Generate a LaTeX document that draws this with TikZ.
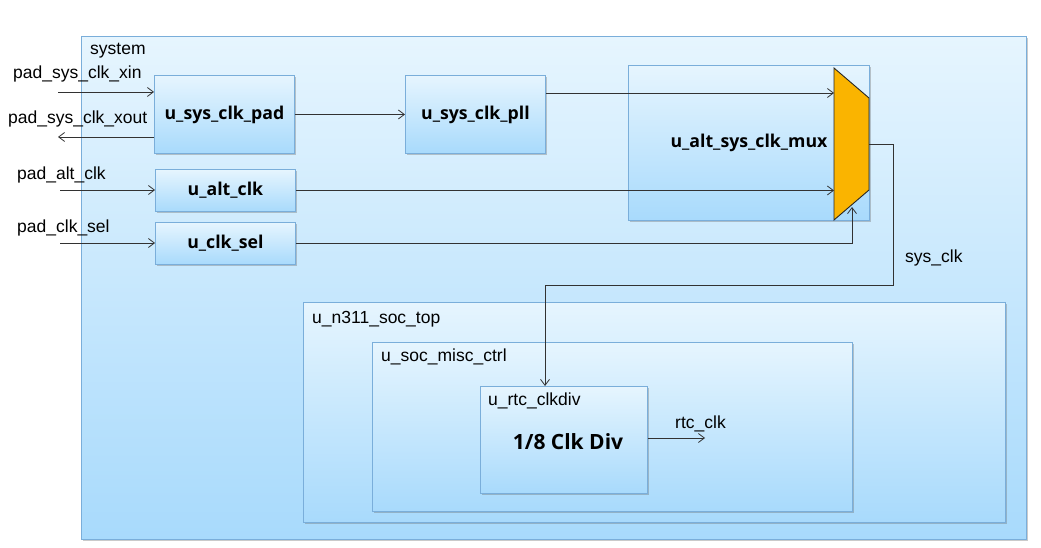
\documentclass[tikz,border=0pt]{standalone}
\usepackage{fontspec}
\setmainfont{Liberation Sans}
\newfontfamily\boldfont{Open Sans}[UprightFont=* Bold]
\usetikzlibrary{arrows.meta,shadows,calc}
\definecolor{boxtop}{RGB}{230,245,254}
\definecolor{boxbot}{RGB}{168,218,252}
\definecolor{boxline}{RGB}{122,174,218}
\definecolor{muxfill}{RGB}{250,180,0}
\definecolor{wire}{RGB}{50,50,50}
\tikzset{
  blk/.style={draw=boxline, line width=0.9pt, top color=boxtop, bottom color=boxbot,
    drop shadow={shadow xshift=1.2pt, shadow yshift=-1.5pt, opacity=0.35, fill=black!60},
    inner sep=0pt, anchor=north west},
  boldlbl/.style={font=\boldfont\fontsize{17.7}{20}\selectfont, inner sep=0pt},
  biglbl/.style={font=\boldfont\fontsize{21}{24}\selectfont, inner sep=0pt},
  plainlbl/.style={font=\fontsize{17.5}{20}\selectfont, inner sep=0pt, anchor=west},
  arr/.style={draw=wire, line width=0.8pt, -{Straight Barb[length=6pt,width=9pt]}},
  wireline/.style={draw=wire, line width=0.8pt}
}
\begin{document}
\begin{tikzpicture}[x=1pt,y=-1pt]
\useasboundingbox (0,0) rectangle (1041,548);
% containers
\node[blk, minimum width=945pt, minimum height=503pt] (system) at (81,36) {};
\node[plainlbl] (systemlbl) at (90,51) {system};
\node[blk, minimum width=140pt, minimum height=78pt] (pad) at (154,75) {};
\node[boldlbl] at (pad.center) {u\_sys\_clk\_pad};
\node[blk, minimum width=140pt, minimum height=78pt] (pll) at (405,75) {};
\node[boldlbl] at (pll.center) {u\_sys\_clk\_pll};
\node[blk, minimum width=241pt, minimum height=155pt] (muxbox) at (628,65) {};
\node[boldlbl] at (749,143) {u\_alt\_sys\_clk\_mux};
\node[blk, minimum width=140pt, minimum height=42pt] (alt) at (155,169) {};
\node[boldlbl] at (alt.center) {u\_alt\_clk};
\node[blk, minimum width=140pt, minimum height=42pt] (sel) at (155,222) {};
\node[boldlbl] at (sel.center) {u\_clk\_sel};
\node[blk, minimum width=702pt, minimum height=220pt] (soctop) at (303,302) {};
\node[plainlbl] at (312,319) {u\_n311\_soc\_top};
\node[blk, minimum width=480pt, minimum height=169pt] (misc) at (372,342) {};
\node[plainlbl] at (381,357) {u\_soc\_misc\_ctrl};
\node[blk, minimum width=167pt, minimum height=107pt] (rtc) at (480,386) {};
\node[plainlbl] at (488,401) {u\_rtc\_clkdiv};
\node[biglbl] at (568,442) {1/8 Clk Div};
% mux trapezoid
\draw[draw=black!85, line width=0.9pt, fill=muxfill] (834,68) -- (869,98) -- (869,190) -- (834,220) -- cycle;
\coordinate (muxA) at (834,93);
\coordinate (muxL) at (834,189);
\coordinate (muxS) at (852,207);
\coordinate (muxO) at (869,144);
\coordinate (bendA) at (893,144);
\coordinate (bendB) at (893,285);
\coordinate (bendC) at (545,285);
% pads
\coordinate (xin) at (58,92);
\coordinate (xout) at (58,137);
\coordinate (altin) at (60,190);
\coordinate (selin) at (60,243);
\node[plainlbl] at (13,74) {pad\_sys\_clk\_xin};
\node[plainlbl] at (8,119) {pad\_sys\_clk\_xout};
\node[plainlbl] at (17,175) {pad\_alt\_clk};
\node[plainlbl] at (17,228) {pad\_clk\_sel};
\node[plainlbl] at (905,258) {sys\_clk};
\node[plainlbl] at (675,424) {rtc\_clk};
\coordinate (rtcout) at (705,438);
% wires
\draw[arr] (xin) -- (xin -| pad.west);
\draw[arr] (pad.west |- xout) -- (xout);
\draw[arr] (altin) -- (altin -| alt.west);
\draw[arr] (selin) -- (selin -| sel.west);
\draw[arr] (pad.east) -- (pad.east -| pll.west);
\draw[arr] (pll.east |- muxA) -- (muxA);
\draw[arr] (alt.east) -- (alt.east -| muxL);
\draw[arr] (sel.east) -- (sel.east -| muxS) -- (muxS);
\draw[arr] (muxO) -- (bendA) -- (bendB) -- (bendC) -- (bendC |- rtc.north);
\draw[arr] (rtc.east |- rtcout) -- (rtcout);
\end{tikzpicture}
\end{document}
